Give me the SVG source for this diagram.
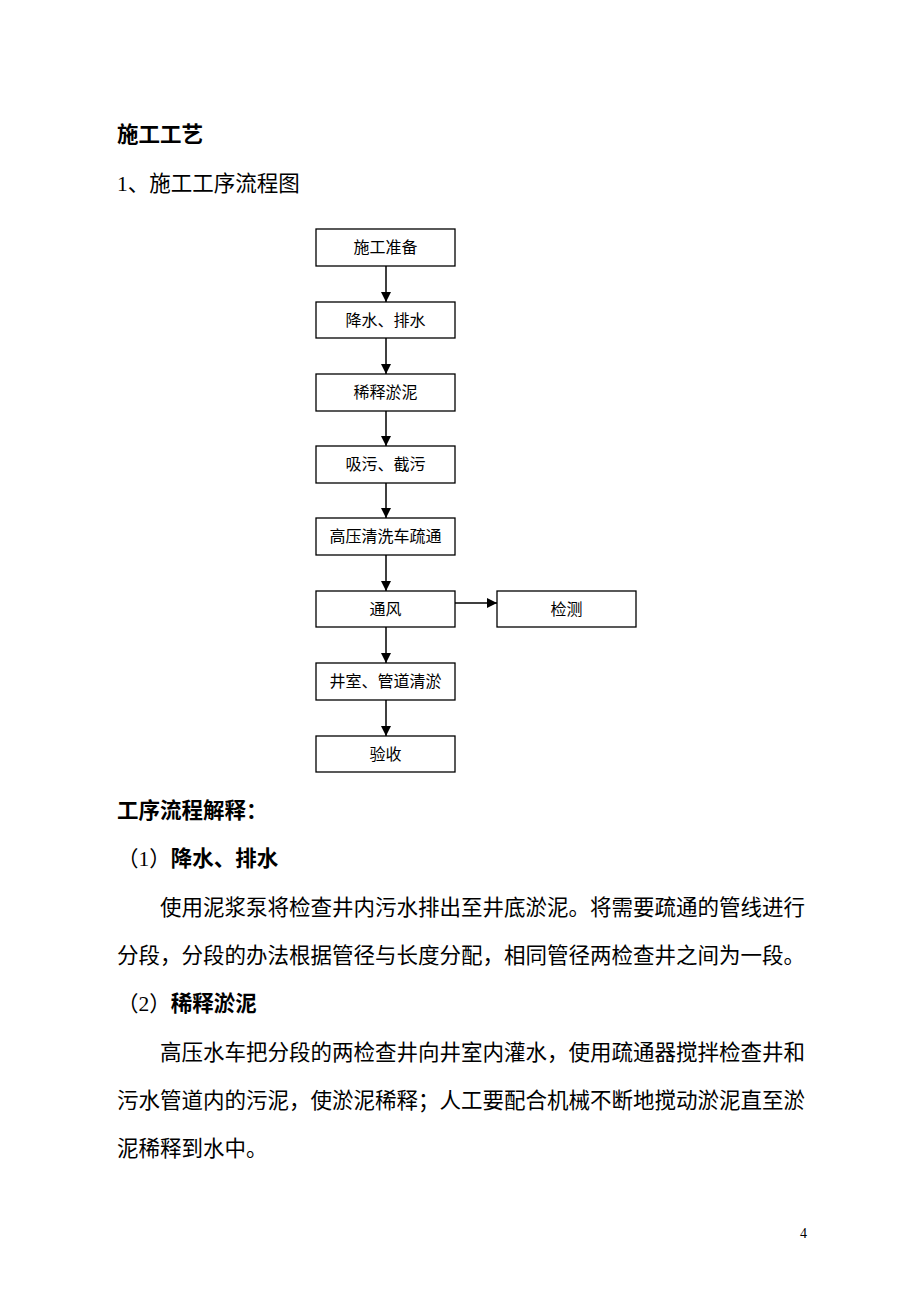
<svg xmlns="http://www.w3.org/2000/svg" width="920" height="1302" viewBox="0 0 920 1302">
<defs>
<style>
.t{font-family:"Liberation Serif","Noto Sans CJK SC",serif;fill:#000}
.h{font-size:21.5px;font-weight:bold}
.p{font-size:21.5px}
.b{fill:#fff;stroke:#000;stroke-width:1.3}
.bt{font-family:"Liberation Serif","Noto Sans CJK SC",serif;font-size:16px;fill:#000;text-anchor:middle}
.c{stroke:#000;stroke-width:1.5;fill:none}
</style>
<marker id="ah" viewBox="0 0 10 10" refX="10" refY="5" markerWidth="10" markerHeight="10" markerUnits="userSpaceOnUse" orient="auto">
<path d="M0,0 L10,5 L0,10 Z" fill="#000"/>
</marker>
</defs>
<rect width="920" height="1302" fill="#fff"/>

<text class="t h" x="117" y="142">施工工艺</text>
<text class="t p" x="117" y="191">1、施工工序流程图</text>

<g id="n1"><rect class="b" x="316" y="229" width="139" height="37"/><text class="bt" x="385.5" y="253">施工准备</text></g>
<g id="n2"><rect class="b" x="316" y="302" width="139" height="36"/><text class="bt" x="385.5" y="326">降水、排水</text></g>
<g id="n3"><rect class="b" x="316" y="374" width="139" height="37"/><text class="bt" x="385.5" y="398">稀释淤泥</text></g>
<g id="n4"><rect class="b" x="316" y="446" width="139" height="37"/><text class="bt" x="385.5" y="470">吸污、截污</text></g>
<g id="n5"><rect class="b" x="316" y="518" width="139" height="37"/><text class="bt" x="385.5" y="542">高压清洗车疏通</text></g>
<g id="n6"><rect class="b" x="316" y="591" width="139" height="36"/><text class="bt" x="385.5" y="615">通风</text></g>
<g id="n7"><rect class="b" x="497" y="591" width="139" height="36"/><text class="bt" x="566.5" y="615">检测</text></g>
<g id="n8"><rect class="b" x="316" y="663" width="139" height="37"/><text class="bt" x="385.5" y="687">井室、管道清淤</text></g>
<g id="n9"><rect class="b" x="316" y="736" width="139" height="36"/><text class="bt" x="385.5" y="760">验收</text></g>

<g id="connectors">
<line class="c" x1="386" y1="266" x2="386" y2="302" marker-end="url(#ah)"/>
<line class="c" x1="386" y1="338" x2="386" y2="374" marker-end="url(#ah)"/>
<line class="c" x1="386" y1="411" x2="386" y2="446" marker-end="url(#ah)"/>
<line class="c" x1="386" y1="483" x2="386" y2="518" marker-end="url(#ah)"/>
<line class="c" x1="386" y1="555" x2="386" y2="591" marker-end="url(#ah)"/>
<line class="c" x1="386" y1="627" x2="386" y2="663" marker-end="url(#ah)"/>
<line class="c" x1="386" y1="700" x2="386" y2="736" marker-end="url(#ah)"/>
<line class="c" x1="455" y1="603" x2="497" y2="603" marker-end="url(#ah)"/>
</g>

<text class="t h" x="117" y="818">工序流程解释：</text>
<text class="t p" x="117" y="866">（1）<tspan font-weight="bold">降水、排水</tspan></text>
<text class="t p" x="160" y="915" textLength="645" lengthAdjust="spacing">使用泥浆泵将检查井内污水排出至井底淤泥。将需要疏通的管线进行</text>
<text class="t p" x="117" y="963" textLength="688" lengthAdjust="spacing">分段，分段的办法根据管径与长度分配，相同管径两检查井之间为一段。</text>
<text class="t p" x="117" y="1011">（2）<tspan font-weight="bold">稀释淤泥</tspan></text>
<text class="t p" x="160" y="1060" textLength="645" lengthAdjust="spacing">高压水车把分段的两检查井向井室内灌水，使用疏通器搅拌检查井和</text>
<text class="t p" x="117" y="1108" textLength="688" lengthAdjust="spacing">污水管道内的污泥，使淤泥稀释；人工要配合机械不断地搅动淤泥直至淤</text>
<text class="t p" x="117" y="1156">泥稀释到水中。</text>

<text class="t" x="800" y="1238" font-size="14">4</text>
</svg>
